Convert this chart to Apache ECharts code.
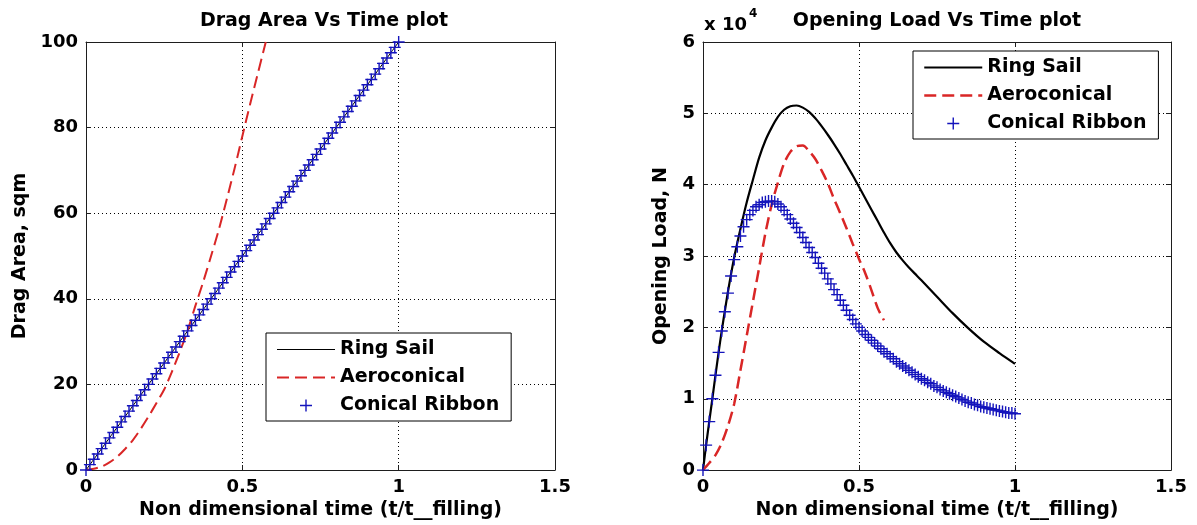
<!DOCTYPE html>
<html>
<head>
<meta charset="utf-8">
<script src="https://cdn.jsdelivr.net/npm/echarts@6/dist/echarts.min.js"></script>
<style>
  html, body { margin: 0; padding: 0; background: #ffffff; }
  #chart { width: 1197px; height: 525px; }
</style>
</head>
<body>
<div id="chart"></div>
<script>
// ---- Drag area (left panel) ----
const dragTime = [0, 0.02, 0.04, 0.06, 0.08, 0.1, 0.12, 0.14, 0.16, 0.18, 0.2, 0.22, 0.24, 0.26, 0.28, 0.3,
  0.32, 0.34, 0.36, 0.38, 0.4, 0.42, 0.44, 0.46, 0.48, 0.5, 0.52, 0.54, 0.56, 0.58, 0.6, 0.62, 0.64, 0.66,
  0.68, 0.7, 0.72, 0.74, 0.76, 0.78, 0.8, 0.82, 0.84, 0.86, 0.88, 0.9, 0.92, 0.94, 0.96, 0.98, 1.0];
const ringSailDrag = [0, 2, 4, 6, 8, 10, 12, 14, 16, 18, 20, 22, 24, 26, 28, 30, 32, 34, 36, 38, 40, 42, 44,
  46, 48, 50, 52, 54, 56, 58, 60, 62, 64, 66, 68, 70, 72, 74, 76, 78, 80, 82, 84, 86, 88, 90, 92, 94, 96, 98, 100];
const ribbonDragTime = [0, 0.0125, 0.025, 0.0375, 0.05, 0.0625, 0.075, 0.0875, 0.1, 0.1125, 0.125, 0.1375,
  0.15, 0.1625, 0.175, 0.1875, 0.2, 0.2125, 0.225, 0.2375, 0.25, 0.2625, 0.275, 0.2875, 0.3, 0.3125, 0.325,
  0.3375, 0.35, 0.3625, 0.375, 0.3875, 0.4, 0.4125, 0.425, 0.4375, 0.45, 0.4625, 0.475, 0.4875, 0.5, 0.5125,
  0.525, 0.5375, 0.55, 0.5625, 0.575, 0.5875, 0.6, 0.6125, 0.625, 0.6375, 0.65, 0.6625, 0.675, 0.6875, 0.7,
  0.7125, 0.725, 0.7375, 0.75, 0.7625, 0.775, 0.7875, 0.8, 0.8125, 0.825, 0.8375, 0.85, 0.8625, 0.875, 0.8875,
  0.9, 0.9125, 0.925, 0.9375, 0.95, 0.9625, 0.975, 0.9875, 1.0];
const conicalRibbonDrag = [0, 1.25, 2.5, 3.75, 5, 6.25, 7.5, 8.75, 10, 11.25, 12.5, 13.75, 15, 16.25, 17.5,
  18.75, 20, 21.25, 22.5, 23.75, 25, 26.25, 27.5, 28.75, 30, 31.25, 32.5, 33.75, 35, 36.25, 37.5, 38.75, 40,
  41.25, 42.5, 43.75, 45, 46.25, 47.5, 48.75, 50, 51.25, 52.5, 53.75, 55, 56.25, 57.5, 58.75, 60, 61.25, 62.5,
  63.75, 65, 66.25, 67.5, 68.75, 70, 71.25, 72.5, 73.75, 75, 76.25, 77.5, 78.75, 80, 81.25, 82.5, 83.75, 85,
  86.25, 87.5, 88.75, 90, 91.25, 92.5, 93.75, 95, 96.25, 97.5, 98.75, 100];
const aeroDragTime = [0, 0.025, 0.05, 0.075, 0.1, 0.125, 0.15, 0.175, 0.2, 0.225, 0.25, 0.275, 0.3, 0.325,
  0.35, 0.375, 0.4, 0.425, 0.45, 0.475, 0.5, 0.525, 0.55, 0.575];
const aeroconicalDrag = [0, 0.3, 0.8, 1.8, 3.1, 4.9, 7.0, 9.6, 12.5, 15.6, 18.8, 23.0, 27.6, 32.6,
  38.4, 44.0, 50.0, 56.2, 63.2, 70.4, 78.0, 85.5, 92.8, 100];

// ---- Opening load (right panel), newtons ----
const ringSailTime = [0, 0.01, 0.02, 0.03, 0.04, 0.05, 0.06, 0.08, 0.1, 0.12, 0.14, 0.16, 0.18, 0.2, 0.22,
  0.24, 0.26, 0.28, 0.3, 0.32, 0.34, 0.36, 0.38, 0.4, 0.42, 0.44, 0.46, 0.48, 0.5, 0.52, 0.54, 0.56, 0.58,
  0.6, 0.62, 0.64, 0.66, 0.68, 0.7, 0.75, 0.8, 0.85, 0.9, 0.95, 1.0];
const ringSailLoad = [0, 3500, 6800, 10000, 13300, 16500, 19500, 25000, 29800, 33800, 37500, 40700, 43800,
  46200, 48000, 49500, 50500, 51000, 51100, 50800, 50200, 49300, 48200, 47000, 45700, 44300, 42800, 41300,
  39700, 38100, 36500, 34900, 33300, 31800, 30500, 29400, 28400, 27500, 26600, 24300, 22000, 19900, 18000,
  16400, 14900];
const aeroLoadTime = [0, 0.02, 0.04, 0.06, 0.08, 0.1, 0.12, 0.14, 0.16, 0.18, 0.2, 0.22, 0.24, 0.26, 0.28,
  0.3, 0.32, 0.34, 0.36, 0.38, 0.4, 0.42, 0.44, 0.46, 0.48, 0.5, 0.52, 0.54, 0.56, 0.58];
const aeroconicalLoad = [0, 1000, 2100, 3800, 6200, 9300, 14000, 18800, 23600, 28400, 33200, 37200, 40300,
  43000, 44600, 45400, 45500, 44700, 43600, 42000, 40200, 38000, 36000, 33900, 31700, 29600, 27600, 25200,
  22700, 21000];
const ribbonLoadTime = [0, 0.01, 0.02, 0.03, 0.04, 0.05, 0.06, 0.07, 0.08, 0.09, 0.1, 0.11, 0.12, 0.13, 0.14,
  0.15, 0.16, 0.17, 0.18, 0.19, 0.2, 0.21, 0.22, 0.23, 0.24, 0.25, 0.26, 0.27, 0.28, 0.29, 0.3, 0.31, 0.32,
  0.33, 0.34, 0.35, 0.36, 0.37, 0.38, 0.39, 0.4, 0.41, 0.42, 0.43, 0.44, 0.45, 0.46, 0.47, 0.48, 0.49, 0.5,
  0.51, 0.52, 0.53, 0.54, 0.55, 0.56, 0.57, 0.58, 0.59, 0.6, 0.61, 0.62, 0.63, 0.64, 0.65, 0.66, 0.67, 0.68,
  0.69, 0.7, 0.71, 0.72, 0.73, 0.74, 0.75, 0.76, 0.77, 0.78, 0.79, 0.8, 0.81, 0.82, 0.83, 0.84, 0.85, 0.86,
  0.87, 0.88, 0.89, 0.9, 0.91, 0.92, 0.93, 0.94, 0.95, 0.96, 0.97, 0.98, 0.99, 1.0];
const conicalRibbonLoad = [0, 3500, 6800, 10000, 13300, 16500, 19500, 22200, 24800, 27200, 29500, 31300,
  32800, 34100, 35100, 35800, 36400, 36900, 37200, 37500, 37600, 37700, 37700, 37600, 37300, 36900, 36400,
  35800, 35200, 34600, 34000, 33300, 32600, 31900, 31200, 30500, 29800, 29000, 28300, 27600, 26800, 26100,
  25300, 24600, 23800, 23100, 22400, 21700, 21100, 20500, 20000, 19500, 19000, 18600, 18200, 17800, 17400,
  17000, 16600, 16300, 15900, 15600, 15200, 14900, 14600, 14300, 14000, 13700, 13400, 13100, 12800, 12600,
  12300, 12100, 11800, 11600, 11300, 11100, 10900, 10700, 10500, 10300, 10100, 9900, 9700, 9500, 9400, 9200,
  9100, 8900, 8800, 8700, 8600, 8500, 8400, 8300, 8200, 8100, 8000, 8000, 7900];

// ---- axis ticks ----
const timeTicks = { min: 0, max: 1.5, interval: 0.5 };
const dragTicks = { min: 0, max: 100, interval: 20 };
const loadTicks = { min: 0, max: 60000, interval: 10000 };
const loadScale = 10000;

const FONT = 'DejaVu Sans';
const RED = '#d92626';
const BLUE = '#1414bc';
const BOX = '#1e1e1e';
const PLUS = 'path://M5.3,0H6.7V5.3H12V6.7H6.7V12H5.3V6.7H0V5.3H5.3Z';

const textBase = { fontFamily: FONT, fontWeight: 'bold', color: '#000' };

function pairs(xs, ys) { return xs.map((x, i) => [x, ys[i]]); }

function mainX(grid, name) {
  return {
    gridIndex: grid, type: 'value', position: 'bottom', ...timeTicks,
    axisLine: { show: true, onZero: false, lineStyle: { color: BOX, width: 1 } },
    axisTick: { show: true, inside: true, length: 5, lineStyle: { color: BOX } },
    axisLabel: { ...textBase, fontSize: 18, margin: 8 },
    splitLine: { show: true, lineStyle: { color: '#000', width: 1, type: [1, 3] } },
    name: name, nameLocation: 'middle', nameGap: 29,
    nameTextStyle: { ...textBase, fontSize: 19 }
  };
}
function edgeX(grid) {
  return {
    gridIndex: grid, type: 'value', position: 'top', ...timeTicks,
    axisLine: { show: true, onZero: false, lineStyle: { color: BOX, width: 1 } },
    axisTick: { show: true, inside: true, length: 5, lineStyle: { color: BOX } },
    axisLabel: { show: false }, splitLine: { show: false }
  };
}
function mainY(grid, ticks, name, gap, fmt) {
  return {
    gridIndex: grid, type: 'value', position: 'left', ...ticks,
    axisLine: { show: true, onZero: false, lineStyle: { color: BOX, width: 1 } },
    axisTick: { show: true, inside: true, length: 5, lineStyle: { color: BOX } },
    axisLabel: { ...textBase, fontSize: 18, margin: 8, formatter: fmt },
    splitLine: { show: true, lineStyle: { color: '#000', width: 1, type: [1, 3] } },
    name: name, nameLocation: 'middle', nameGap: gap,
    nameTextStyle: { ...textBase, fontSize: 19 }
  };
}
function edgeY(grid, ticks) {
  return {
    gridIndex: grid, type: 'value', position: 'right', ...ticks,
    axisLine: { show: true, onZero: false, lineStyle: { color: BOX, width: 1 } },
    axisTick: { show: true, inside: true, length: 5, lineStyle: { color: BOX } },
    axisLabel: { show: false }, splitLine: { show: false }
  };
}
// Legend entries: plain line samples for the two curves, a "+" for the marker series
const hiddenDot = { opacity: 0, color: 'rgba(0,0,0,0)', borderWidth: 0 };
function legendAt(left, top, sailWidth, aeroWidth) {
  return {
    orient: 'vertical', left: left, top: top, align: 'left',
    selectedMode: false,
    backgroundColor: '#ffffff', borderColor: '#000', borderWidth: 1,
    padding: [7, 12, 6, 10], itemGap: 9, itemWidth: 58, itemHeight: 12,
    textStyle: { ...textBase, fontSize: 19, lineHeight: 19 },
    data: [
      { name: 'Ring Sail', lineStyle: { width: sailWidth }, itemStyle: hiddenDot },
      { name: 'Aeroconical', lineStyle: { width: aeroWidth }, itemStyle: hiddenDot },
      { name: 'Conical Ribbon' }
    ]
  };
}

const chart = echarts.init(document.getElementById('chart'), null, { renderer: 'canvas' });

chart.setOption({
  animation: false,
  backgroundColor: '#ffffff',
  grid: [
    { left: 86, top: 42, width: 469, height: 428, containLabel: false },
    { left: 703, top: 42, width: 468, height: 429, containLabel: false }
  ],
  xAxis: [
    mainX(0, 'Non dimensional time (t/t__filling)'),
    edgeX(0),
    mainX(1, 'Non dimensional time (t/t__filling)'),
    edgeX(1)
  ],
  yAxis: [
    mainY(0, dragTicks, 'Drag Area, sqm', 56, v => String(v)),
    edgeY(0, dragTicks),
    mainY(1, loadTicks, 'Opening Load, N', 32, v => String(v / loadScale)),
    edgeY(1, loadTicks)
  ],
  legend: [
    legendAt(266, 333, 1, 2),
    legendAt(913, 51, 2.2, 2.5)
  ],
  graphic: [
    { type: 'text', x: 324, y: 21, style: { text: 'Drag Area Vs Time plot', fontFamily: FONT, fontWeight: 'bold', fontSize: 19, fill: '#000', align: 'center', verticalAlign: 'middle' } },
    { type: 'text', x: 937, y: 21, style: { text: 'Opening Load Vs Time plot', fontFamily: FONT, fontWeight: 'bold', fontSize: 19, fill: '#000', align: 'center', verticalAlign: 'middle' } },
    { type: 'text', x: 704, y: 25, style: { text: 'x 10', fontFamily: FONT, fontWeight: 'bold', fontSize: 18, fill: '#000', align: 'left', verticalAlign: 'middle' } },
    { type: 'text', x: 749, y: 14, style: { text: '4', fontFamily: FONT, fontWeight: 'bold', fontSize: 12, fill: '#000', align: 'left', verticalAlign: 'middle' } }
  ],
  series: [
    {
      name: 'Ring Sail', type: 'line', xAxisIndex: 0, yAxisIndex: 0,
      data: pairs(dragTime, ringSailDrag), symbol: 'none',
      lineStyle: { color: '#000', width: 1 }, itemStyle: { color: '#000' }, z: 2
    },
    {
      name: 'Aeroconical', type: 'line', xAxisIndex: 0, yAxisIndex: 0,
      data: pairs(aeroDragTime, aeroconicalDrag), symbol: 'none', smooth: 0.3,
      lineStyle: { color: RED, width: 2, type: [12, 6] }, itemStyle: { color: RED }, z: 3
    },
    {
      name: 'Conical Ribbon', type: 'scatter', xAxisIndex: 0, yAxisIndex: 0,
      data: pairs(ribbonDragTime, conicalRibbonDrag), symbol: PLUS, symbolSize: 12, symbolKeepAspect: true,
      itemStyle: { color: BLUE, opacity: 1 }, z: 4
    },
    {
      name: 'Ring Sail', type: 'line', xAxisIndex: 2, yAxisIndex: 2,
      data: pairs(ringSailTime, ringSailLoad), symbol: 'none', smooth: 0.3,
      lineStyle: { color: '#000', width: 2.2 }, itemStyle: { color: '#000' }, z: 2
    },
    {
      name: 'Aeroconical', type: 'line', xAxisIndex: 2, yAxisIndex: 2,
      data: pairs(aeroLoadTime, aeroconicalLoad), symbol: 'none', smooth: 0.3,
      lineStyle: { color: RED, width: 2.5, type: [12, 6] }, itemStyle: { color: RED }, z: 3
    },
    {
      name: 'Conical Ribbon', type: 'scatter', xAxisIndex: 2, yAxisIndex: 2,
      data: pairs(ribbonLoadTime, conicalRibbonLoad), symbol: PLUS, symbolSize: 12, symbolKeepAspect: true,
      itemStyle: { color: BLUE, opacity: 1 }, z: 4
    }
  ]
});
</script>
</body>
</html>
